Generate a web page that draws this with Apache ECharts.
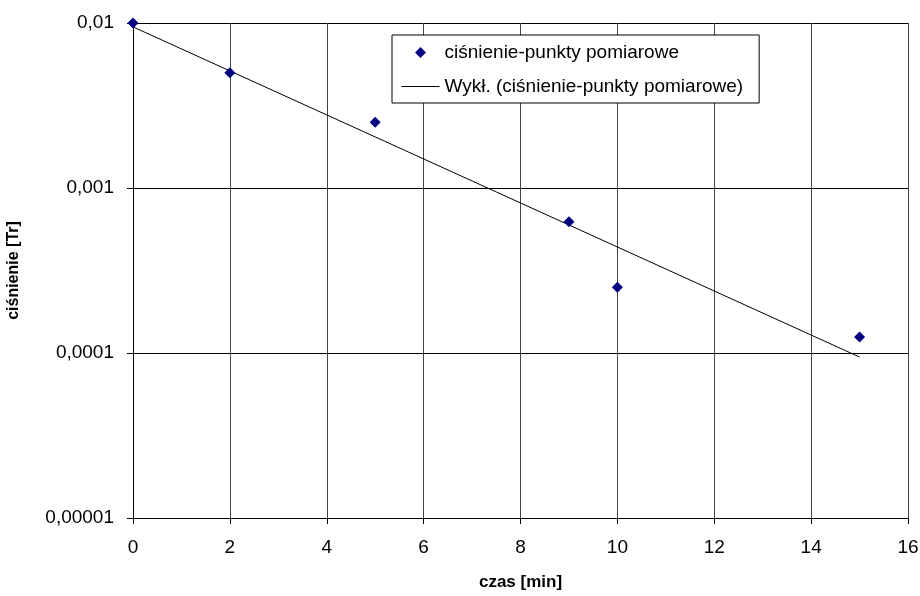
<!DOCTYPE html>
<html>
<head>
<meta charset="utf-8">
<script src="https://cdn.jsdelivr.net/npm/echarts@6/dist/echarts.min.js"></script>
<style>
  html, body { margin: 0; padding: 0; background: #fff; }
  #chart { width: 920px; height: 596px; }
</style>
</head>
<body>
<div id="chart"></div>
<script>
// punkty pomiarowe
var czas = [0, 2, 5, 9, 10, 15];
var cisnienie = [0.01, 0.005, 0.0025, 0.000625, 0.00025, 0.000125];
// linia trendu (wykladnicza) - koncowki
var trendCzas = [0, 15];
var trendCisnienie = [0.00947, 0.0000945];

var nazwaPunkty = 'ciśnienie-punkty pomiarowe';
var nazwaTrend = 'Wykł. (ciśnienie-punkty pomiarowe)';

var chart = echarts.init(document.getElementById('chart'));

var punkty = czas.map(function (x, i) { return [x, cisnienie[i]]; });
var trend = trendCzas.map(function (x, i) { return [x, trendCisnienie[i]]; });

var font = 'Liberation Sans, Arial, sans-serif';

// romb na srodku szerokiej ikony legendy (puste punkty wyznaczaja obrys 38x11)
var ikonaRomb = 'path://M0,0L0,0M38,11L38,11M19,0L24.5,5.5L19,11L13.5,5.5Z';

var option = {
    animation: false,
    textStyle: { fontFamily: font },
    grid: { left: 133, right: 12, top: 23, bottom: 78, outerBoundsMode: 'none', containLabel: false },
    legend: {
        left: 392,
        top: 35,
        orient: 'vertical',
        padding: [8, 16, 7, 9],
        itemGap: 15,
        itemWidth: 38,
        itemHeight: 11,
        borderColor: '#000',
        borderWidth: 1,
        borderRadius: 0,
        backgroundColor: '#fff',
        textStyle: { fontSize: 19, color: '#000', fontFamily: font },
        data: [
            { name: nazwaPunkty, icon: ikonaRomb },
            { name: nazwaTrend, itemStyle: { opacity: 0 }, lineStyle: { color: '#000', width: 1 } }
        ]
    },
    xAxis: {
        type: 'value',
        min: 0,
        max: 16,
        interval: 2,
        name: 'czas [min]',
        nameLocation: 'middle',
        nameGap: 56,
        nameTextStyle: { fontSize: 17, fontWeight: 'bold', color: '#000' },
        axisLine: { lineStyle: { color: '#000', width: 1 } },
        axisTick: { show: true, inside: false, length: 6, lineStyle: { color: '#000' } },
        axisLabel: { fontSize: 19, color: '#000', margin: 20 },
        splitLine: { show: true, lineStyle: { color: '#444', width: 1 } }
    },
    yAxis: {
        type: 'log',
        logBase: 10,
        min: 0.00001,
        max: 0.01,
        name: 'ciśnienie [Tr]',
        nameLocation: 'middle',
        nameGap: 111,
        nameTextStyle: { fontSize: 16, fontWeight: 'bold', color: '#000' },
        axisLine: { show: true, lineStyle: { color: '#000', width: 1 } },
        axisTick: { show: true, inside: false, length: 6, lineStyle: { color: '#000' } },
        axisLabel: {
            fontSize: 19,
            color: '#000',
            margin: 19,
            formatter: function (v) {
                var d = -Math.round(Math.log10(v));
                return v.toFixed(d).replace('.', ',');
            }
        },
        splitLine: { show: true, lineStyle: { color: '#000', width: 1 } }
    },
    series: [
        {
            name: nazwaTrend,
            type: 'line',
            data: trend,
            symbol: 'none',
            lineStyle: { color: '#000', width: 1 },
            itemStyle: { color: '#000' },
            z: 2
        },
        {
            name: nazwaPunkty,
            type: 'scatter',
            data: punkty,
            symbol: 'diamond',
            symbolSize: 11,
            itemStyle: { color: '#000080', opacity: 1 },
            z: 3
        }
    ]
};

chart.setOption(option);
</script>
</body>
</html>
